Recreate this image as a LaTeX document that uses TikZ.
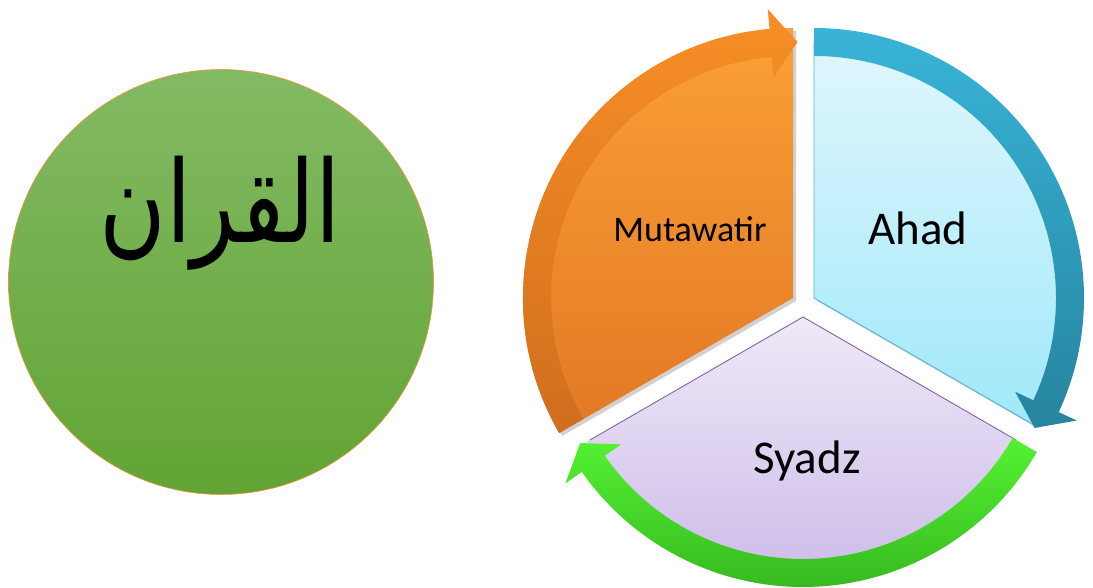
\documentclass[tikz,border=0pt]{standalone}
\usepackage{fontspec}
\usetikzlibrary{shadows}
\newfontfamily\labfont{Carlito}
\newfontfamily\arabicfont[Script=Arabic]{DejaVu Sans}
\TeXXeTstate=1
\definecolor{qtop}{RGB}{131,186,100}
\definecolor{qbot}{RGB}{98,164,52}
\definecolor{qedge}{RGB}{240,150,60}
\definecolor{ofilltop}{RGB}{251,160,54}
\definecolor{ofillbot}{RGB}{226,120,36}
\definecolor{obandtop}{RGB}{247,142,38}
\definecolor{obandbot}{RGB}{208,110,30}
\definecolor{bfilltop}{RGB}{224,247,253}
\definecolor{bfillbot}{RGB}{160,232,250}
\definecolor{bedge}{RGB}{75,180,210}
\definecolor{bbandtop}{RGB}{56,180,216}
\definecolor{bbandbot}{RGB}{38,132,158}
\definecolor{pfilltop}{RGB}{239,233,247}
\definecolor{pfillbot}{RGB}{202,184,232}
\definecolor{pedge}{RGB}{128,100,162}
\definecolor{gbandtop}{RGB}{84,242,50}
\definecolor{gbandbot}{RGB}{56,186,32}
\tikzset{
  shadowed/.style={drop shadow={shadow xshift=3pt,shadow yshift=-3pt,opacity=0.18,fill=black}},
  bigcircle/.style={circle, minimum size=425pt, inner sep=0pt, draw=qedge, line width=0.6pt, top color=qtop, bottom color=qbot},
  labmid/.style={anchor=base, text=black, font=\labfont\fontsize{36}{40}\selectfont},
  labbig/.style={anchor=base, text=black, font=\labfont\fontsize{47}{52}\selectfont},
  arab/.style={anchor=base, text=black, font=\arabicfont\fontsize{91}{100}\selectfont}
}
\begin{document}
\begin{tikzpicture}[x=1pt,y=1pt]
\useasboundingbox (0,0) rectangle (1093,588);
% left circle
\node[bigcircle] (quran) at (221,306) {};
\begin{scope}[shift={(220,345)}]
\node[arab, yscale=1.25] (qtext) at (0,0) {\beginR القران\endR};
\end{scope}
% purple sector and green arrow
\begin{scope}[shift={(803,271)}]
\path[shadowed, top color=pfilltop, bottom color=pfillbot] (0,0) -- (210:250) arc[start angle=210,end angle=330,radius=250] -- cycle;
\draw[pedge, line width=0.9pt] (210:246) -- (0,0) -- (330:246);
\path[top color=gbandtop, bottom color=gbandbot] (330:270) arc[start angle=330,end angle=215,radius=270] -- (215:290) -- (209.5:256) -- (215:222) -- (215:242) arc[start angle=215,end angle=330,radius=242] -- cycle;
\end{scope}
% blue sector and arrow
\begin{scope}[shift={(814,290)}]
\path[shadowed, top color=bfilltop, bottom color=bfillbot, draw=bedge, line width=0.8pt] (0,0) -- (90:255) arc[start angle=90,end angle=-30,radius=255] -- cycle;
\path[top color=bbandtop, bottom color=bbandbot] (90:270) arc[start angle=90,end angle=-25,radius=270] -- (-25:290) -- (-30.5:256) -- (-25:222) -- (-25:242) arc[start angle=-25,end angle=90,radius=242] -- cycle;
\end{scope}
% orange sector and arrow
\begin{scope}[shift={(793,290)}]
\path[shadowed, top color=ofilltop, bottom color=ofillbot] (0,0) -- (210:270) arc[start angle=210,end angle=90,radius=270] -- cycle;
\path[top color=obandtop, bottom color=obandbot] (210:270) arc[start angle=210,end angle=95,radius=270] -- (95:290) -- (89:256) -- (95:222) -- (95:242) arc[start angle=95,end angle=210,radius=242] -- cycle;
\end{scope}
% labels
\node[labmid] (mut) at (690,346) {Mutawatir};
\node[labbig] (ahad) at (918,343) {Ahad};
\node[labbig] (syadz) at (807,114) {Syadz};
\end{tikzpicture}
\end{document}
